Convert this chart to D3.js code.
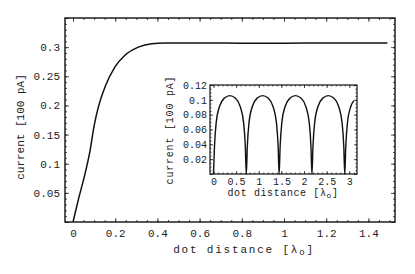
<!DOCTYPE html>
<html>
  <head>
    <meta charset="utf-8">
    <title>current vs dot distance</title>
    <script src="https://d3js.org/d3.v7.min.js"></script>
    <style>
      body { margin: 0; background: #fff; }
      text { font-family: "Liberation Mono", "DejaVu Sans Mono", monospace; fill: #222; }
    </style>
  </head>
  <body>
    <script>
    // main curve: current vs dot distance
    var mainX = [0, 0.025, 0.057, 0.081, 0.1, 0.12, 0.152, 0.199, 0.246, 0.309, 0.373, 0.436, 0.5, 0.7, 0.9, 1.1, 1.3, 1.49]
    var mainY = [0, 0.038, 0.083, 0.123, 0.165, 0.197, 0.232, 0.266, 0.286, 0.300, 0.306, 0.307, 0.307, 0.307, 0.3065, 0.307, 0.307, 0.307]

    // inset curve
    var insetX = [0, 0.022, 0.059, 0.133, 0.243, 0.36, 0.48, 0.59, 0.666, 0.703, 0.725,
                  0.747, 0.784, 0.858, 0.968, 1.085, 1.205, 1.315, 1.391, 1.428, 1.45,
                  1.472, 1.509, 1.583, 1.693, 1.81, 1.93, 2.04, 2.116, 2.153, 2.175,
                  2.197, 2.234, 2.308, 2.418, 2.535, 2.655, 2.765, 2.841, 2.878, 2.9,
                  2.922, 2.959, 3.033, 3.1]
    var insetY = [0, 0.037, 0.069, 0.091, 0.1025, 0.1057, 0.1025, 0.091, 0.069, 0.037, 0,
                  0.037, 0.069, 0.091, 0.1025, 0.1057, 0.1025, 0.091, 0.069, 0.037, 0,
                  0.037, 0.069, 0.091, 0.1025, 0.1057, 0.1025, 0.091, 0.069, 0.037, 0,
                  0.037, 0.069, 0.091, 0.1025, 0.1057, 0.1025, 0.091, 0.069, 0.037, 0,
                  0.037, 0.069, 0.091, 0.099]

    var mainXTicks = [0, 0.2, 0.4, 0.6, 0.8, 1, 1.2, 1.4]
    var mainYTicks = [0.05, 0.1, 0.15, 0.2, 0.25, 0.3]
    var insetXTicks = [0, 0.5, 1, 1.5, 2, 2.5, 3]
    var insetYTicks = [0.02, 0.04, 0.06, 0.08, 0.1, 0.12]

    var width = 415
        height = 274

    var svg = d3.select("body").append("svg")
                .attr("width", width)
                .attr("height", height)

    var fmt = function(d) { return String(+d.toFixed(3)) }

    // draws a framed panel with inward ticks on all four sides
    function panel(opt) {
      var x = d3.scaleLinear().domain(opt.xd).range([opt.left, opt.right])
      var y = d3.scaleLinear().domain(opt.yd).range([opt.bottom, opt.top])
      var g = svg.append("g")

      g.append("rect")
        .attr("x", opt.left).attr("y", opt.top)
        .attr("width", opt.right - opt.left).attr("height", opt.bottom - opt.top)
        .attr("fill", "#fff")

      var minX = d3.range(Math.ceil(opt.xd[0] / opt.xm), Math.floor(opt.xd[1] / opt.xm) + 1).map(function(i) { return i * opt.xm })
      var minY = d3.range(Math.ceil(opt.yd[0] / opt.ym), Math.floor(opt.yd[1] / opt.ym) + 1).map(function(i) { return i * opt.ym })
      var majX = d3.range(Math.ceil(opt.xd[0] / opt.xM - 1e-9), Math.floor(opt.xd[1] / opt.xM + 1e-9) + 1).map(function(i) { return i * opt.xM })
      var majY = d3.range(Math.ceil(opt.yd[0] / opt.yM - 1e-9), Math.floor(opt.yd[1] / opt.yM + 1e-9) + 1).map(function(i) { return i * opt.yM })

      var axes = [
        [d3.axisBottom(x), opt.bottom, "x"],
        [d3.axisTop(x), opt.top, "x"],
        [d3.axisLeft(y), opt.left, "y"],
        [d3.axisRight(y), opt.right, "y"]
      ]
      axes.forEach(function(a) {
        var tr = a[2] == "x" ? "translate(0," + a[1] + ")" : "translate(" + a[1] + ",0)"
        // minor
        g.append("g").attr("transform", tr)
          .call(a[0].tickValues(a[2] == "x" ? minX : minY).tickSize(-opt.tm).tickFormat(""))
          .call(function(s) { s.select(".domain").remove() })
        // major
        g.append("g").attr("transform", tr)
          .call(a[0].tickValues(a[2] == "x" ? majX : majY).tickSize(-opt.tM).tickFormat(""))
          .call(function(s) { s.select(".domain").remove() })
      })
      g.selectAll(".tick line").attr("stroke", "#222").attr("stroke-width", 0.8)

      // labelled ticks
      g.append("g").attr("transform", "translate(0," + opt.bottom + ")")
        .call(d3.axisBottom(x).tickValues(opt.xt).tickSize(0).tickPadding(opt.xpad).tickFormat(fmt))
        .call(function(s) { s.select(".domain").remove() })
        .selectAll("text").style("font-size", opt.fs + "px")
      g.append("g").attr("transform", "translate(" + opt.left + ",0)")
        .call(d3.axisLeft(y).tickValues(opt.yt).tickSize(0).tickPadding(opt.ypad).tickFormat(fmt))
        .call(function(s) { s.select(".domain").remove() })
        .selectAll("text").style("font-size", opt.fs + "px")

      g.append("rect")
        .attr("x", opt.left).attr("y", opt.top)
        .attr("width", opt.right - opt.left).attr("height", opt.bottom - opt.top)
        .attr("fill", "none").attr("stroke", "#111").attr("stroke-width", opt.fw)

      var line = d3.line()
                   .x(function(d) { return x(d[0]) })
                   .y(function(d) { return y(d[1]) })
                   .curve(d3.curveMonotoneX)
      g.append("path")
        .datum(d3.zip(opt.dx, opt.dy))
        .attr("d", line)
        .attr("fill", "none").attr("stroke", "#111").attr("stroke-width", opt.lw)

      // axis titles
      var xl = g.append("text")
        .attr("x", opt.xlx).attr("y", opt.xly)
        .attr("text-anchor", "middle")
        .style("font-size", opt.lfs + "px").style("letter-spacing", opt.ls + "px")
      xl.append("tspan").text("dot distance [λ")
      xl.append("tspan").text("o").style("font-size", (opt.lfs - 2) + "px").attr("dy", 2)
      xl.append("tspan").text("]").attr("dy", -2)

      g.append("text")
        .attr("transform", "translate(" + opt.ylx + "," + opt.yly + ") rotate(-90)")
        .attr("text-anchor", "middle")
        .style("font-size", opt.lfs + "px").style("letter-spacing", opt.yls + "px")
        .text("current [100 pA]")
    }

    panel({
      left: 65, right: 395, top: 18, bottom: 222,
      xd: [-0.038, 1.526], yd: [0, 0.35],
      xm: 0.05, xM: 0.2, ym: 0.01, yM: 0.05, tm: 2, tM: 4,
      xt: mainXTicks, yt: mainYTicks, xpad: 7, ypad: 5, fs: 11,
      fw: 1.4, lw: 1.5,
      dx: mainX, dy: mainY,
      xlx: 244, xly: 253, ylx: 24, yly: 127, lfs: 11, ls: 1.8, yls: 0
    })

    panel({
      left: 210, right: 357, top: 85, bottom: 174,
      xd: [-0.077, 3.17], yd: [0, 0.12],
      xm: 0.1, xM: 0.5, ym: 0.005, yM: 0.02, tm: 1.5, tM: 3,
      xt: insetXTicks, yt: insetYTicks, xpad: 4, ypad: 3, fs: 10,
      fw: 1.2, lw: 1.4,
      dx: insetX, dy: insetY,
      xlx: 283, xly: 196, ylx: 173, yly: 130, lfs: 10, ls: 0.6, yls: 0.8
    })
    </script>
  </body>
</html>
